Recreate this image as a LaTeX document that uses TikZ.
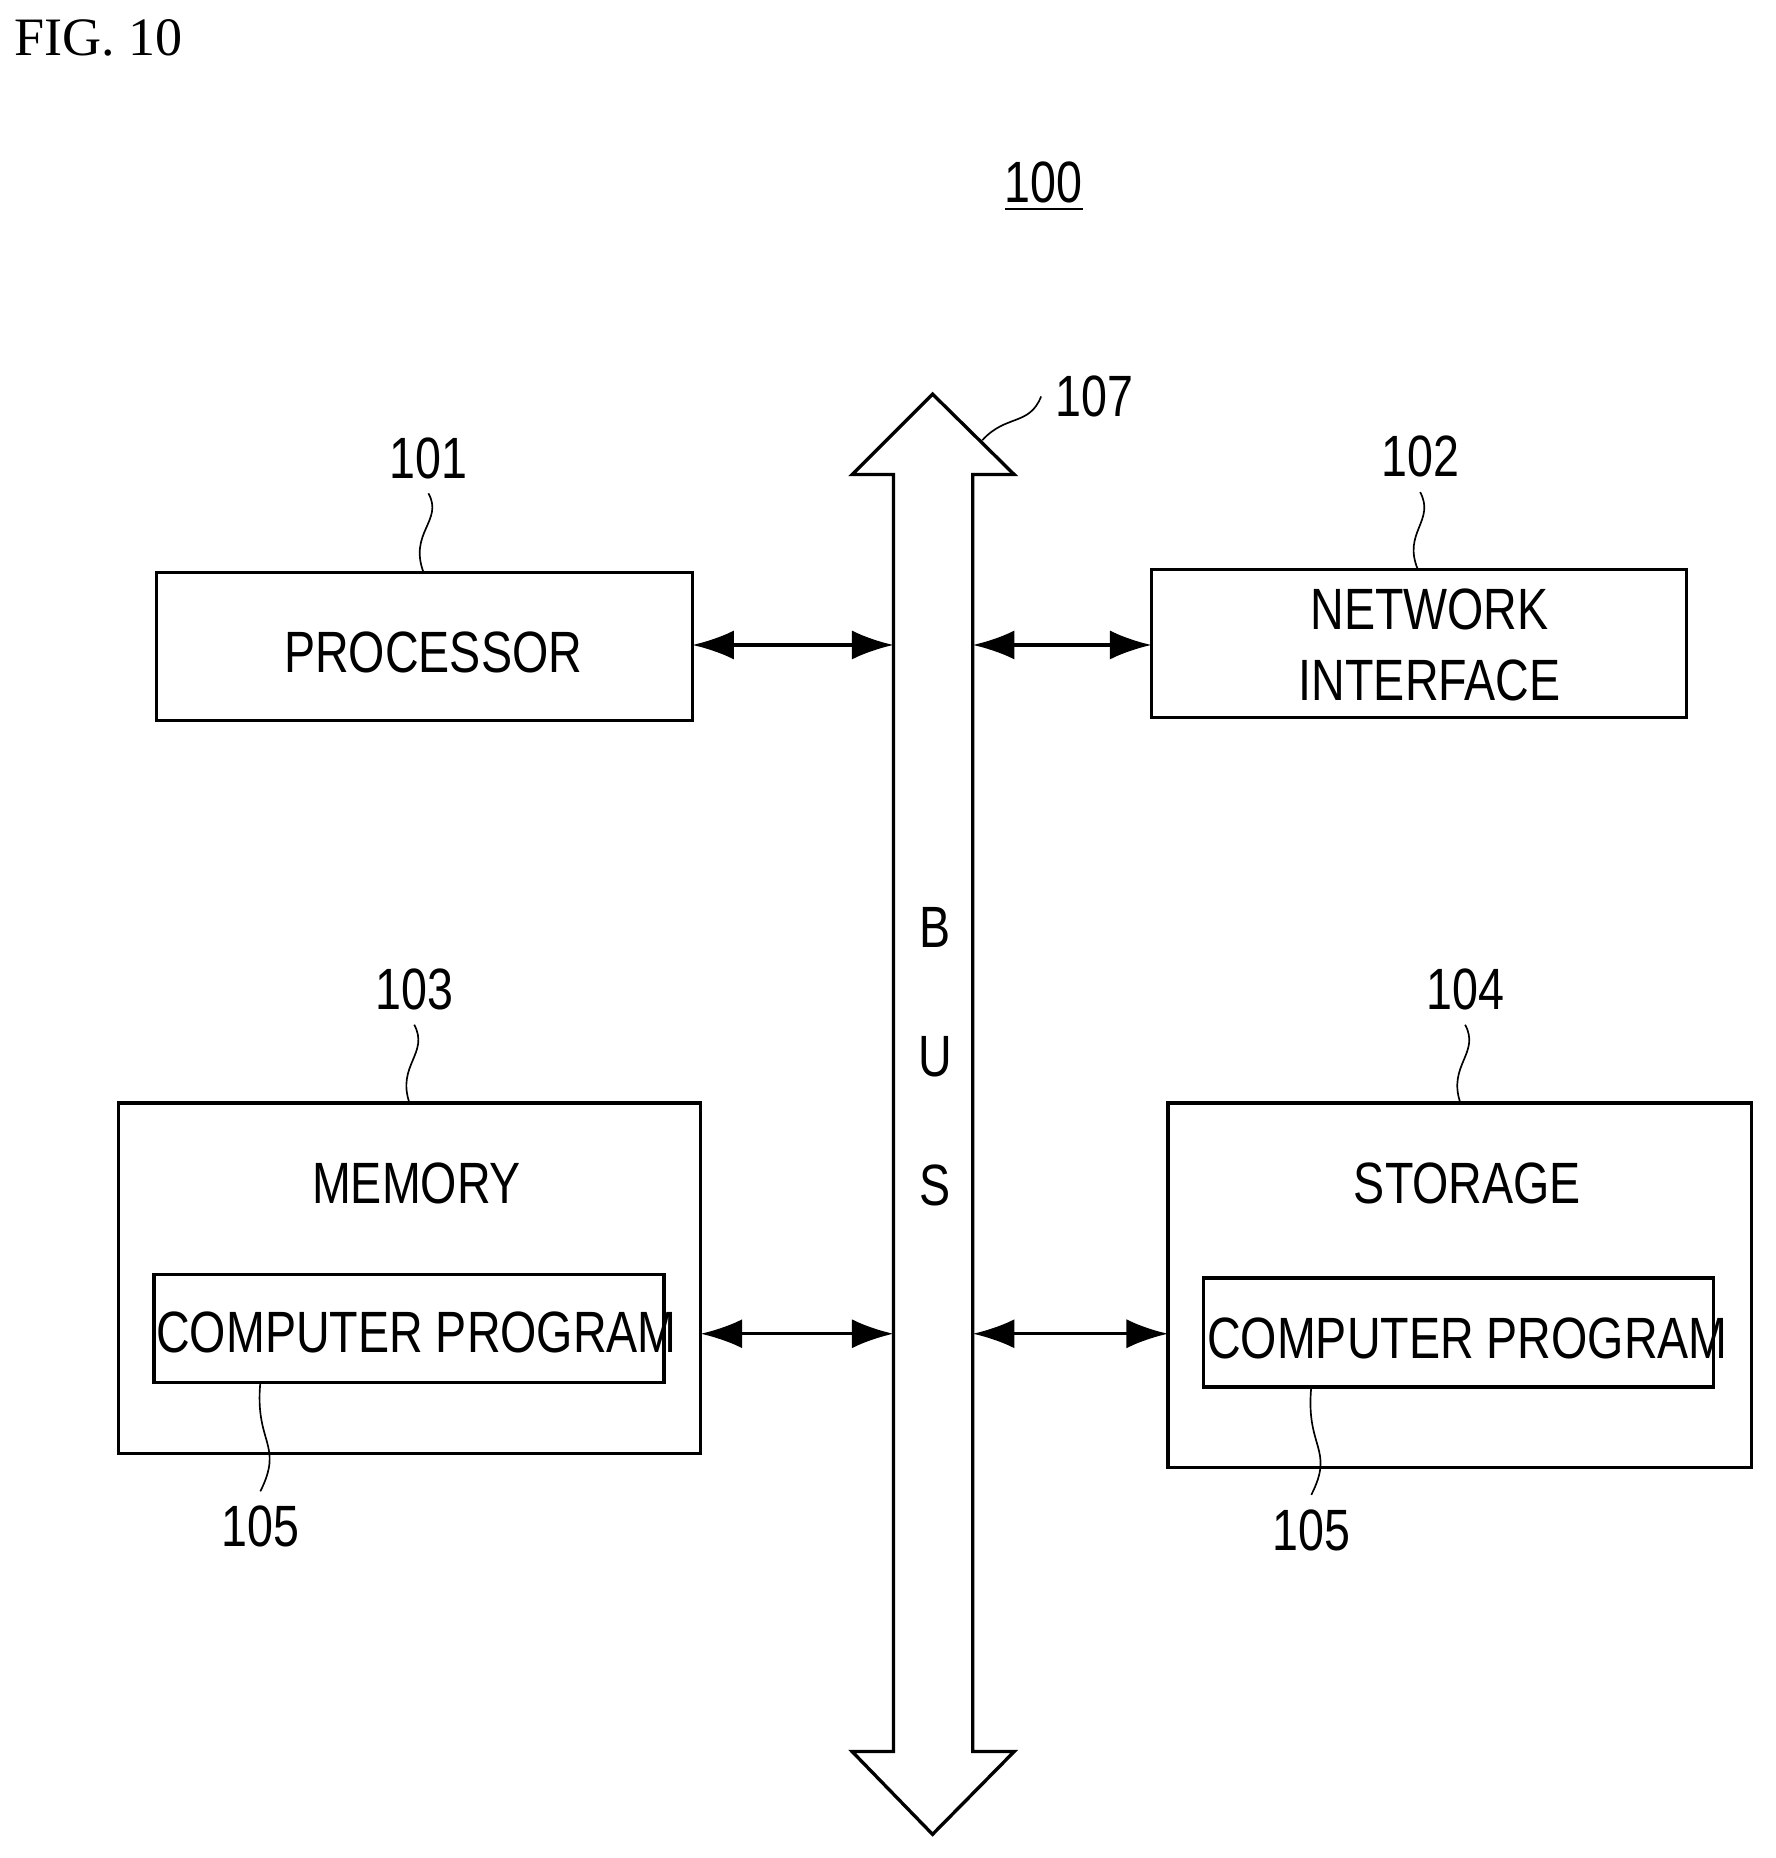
\documentclass[tikz,border=0pt]{standalone}
\usepackage{fontspec}
\setmainfont{Liberation Serif}
\setsansfont{Liberation Sans}[FakeStretch=0.8]
\usetikzlibrary{positioning, calc, arrows.meta}

\begin{document}
\begin{tikzpicture}[x=0.01cm, y=-0.01cm,
    every node/.style={font=\sffamily\fontsize{14}{17}\selectfont, align=center},
    block/.style={draw, thick, minimum width=#1},
    link/.style={thick, {Latex[length=10pt,width=7pt]}-{Latex[length=10pt,width=7pt]}},
    lead/.style={thin}
]
\useasboundingbox (0,0) rectangle (1500,1570);

\node (fig) at (83,32) [font=\rmfamily\fontsize{13}{15}\selectfont] {FIG. 10};
\node (sys) at (882,158) {\underline{100}};

% bus
\draw[thick] (755,1480) -- (755,401) -- (720,401) -- (788,333) -- (857,401) -- (822,401)
  -- (822,1480) -- (857,1480) -- (788,1550) -- (720,1480) -- cycle;
\node (bus) at (790,893) {B\\[14pt]U\\[14pt]S};
\node (n107) at (925,335) {107};
\coordinate (b107) at (830,372);
\draw[lead] (b107) .. controls (850,350) and (870,360) .. (n107.west);

% blocks
\draw[thick] (132,484) rectangle (585,609);
\node (proc) at (366,551) {PROCESSOR};
\draw[thick] (973,481) rectangle (1425,606);
\node (net) at (1208,545) {NETWORK\\INTERFACE};
\draw[thick] (100,932) rectangle (592,1228);
\node (mem) at (352,1000) {MEMORY};
\draw[thick] (130,1077) rectangle (561,1168);
\node (prog1) at (352,1126) {COMPUTER PROGRAM};
\draw[thick] (987,932) rectangle (1480,1240);
\node (stor) at (1240,1000) {STORAGE};
\draw[thick] (1017,1080) rectangle (1448,1172);
\node (prog2) at (1240,1131) {COMPUTER PROGRAM};

% reference numerals
\node (n101) at (362,387) {101};
\draw[lead] (n101.south) .. controls (375,440) and (345,450) .. (358,484);
\node (n102) at (1200,386) {102};
\draw[lead] (n102.south) .. controls (1213,440) and (1185,450) .. (1198,481);
\node (n103) at (350,836) {103};
\draw[lead] (n103.south) .. controls (363,890) and (335,900) .. (346,932);
\node (n104) at (1238,836) {104};
\draw[lead] (n104.south) .. controls (1251,890) and (1223,900) .. (1234,932);
\node (n105a) at (220,1290) {105};
\draw[lead] (220,1168) .. controls (215,1220) and (240,1220) .. (n105a.north);
\node (n105b) at (1108,1293) {105};
\draw[lead] (1108,1172) .. controls (1103,1224) and (1128,1224) .. (n105b.north);

% connectors
\draw[link] (585,545) -- (755,545);
\draw[link] (822,545) -- (973,545);
\draw[link] (592,1127) -- (755,1127);
\draw[link] (822,1127) -- (987,1127);
\end{tikzpicture}
\end{document}
